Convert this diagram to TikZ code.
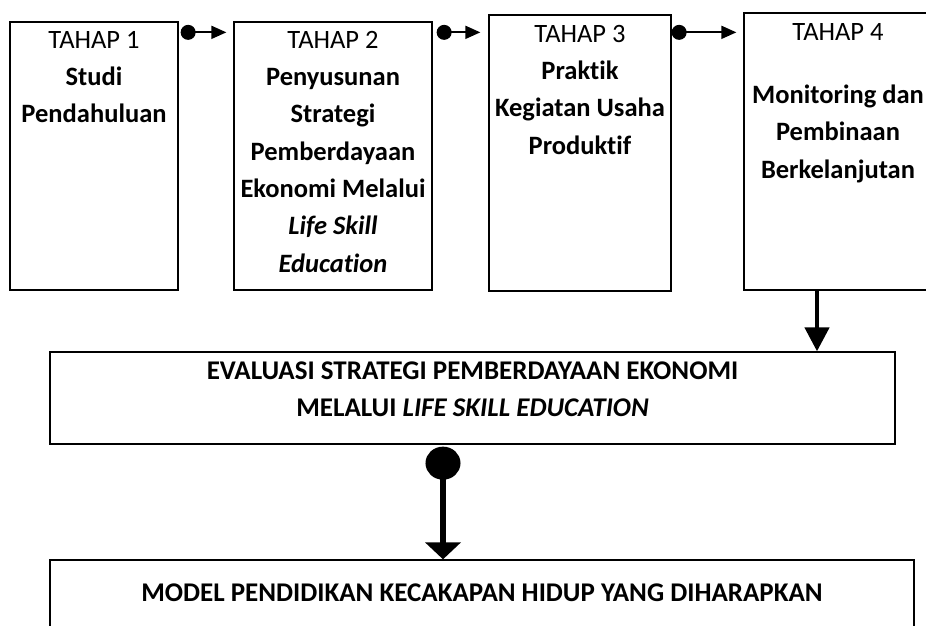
\documentclass[tikz,border=0pt]{standalone}
\usepackage{fontspec}
\setmainfont{Carlito}[Ligatures=NoCommon]
\usetikzlibrary{arrows.meta}
\begin{document}
\begin{tikzpicture}[x=1pt,y=-1pt,
  box/.style={draw, line width=1.3pt, inner sep=0pt},
  txt/.style={align=center, inner sep=0pt, anchor=north, font=\fontsize{26.5}{37.3}\selectfont},
  wtxt/.style={align=center, inner sep=0pt, anchor=north, font=\fontsize{27}{37}\selectfont},
  link/.style={line width=1.8pt, {Circle[length=15pt]}-{Triangle[length=15pt,width=13pt]}},
  down/.style={line width=4.5pt, -{Triangle[length=24pt,width=24pt]}},
  bigdown/.style={line width=6pt, {Circle[length=33pt,width=35pt]}-{Triangle[length=17pt,width=35pt]}}]
\useasboundingbox (0,0) rectangle (926,626);
% boxes
\node[box, minimum width=168pt, minimum height=268pt] (b1) at (94,156) {};
\node[box, minimum width=198pt, minimum height=268pt] (b2) at (333,156) {};
\node[box, minimum width=182pt, minimum height=276pt] (b3) at (580,153) {};
\node[box, minimum width=191pt, minimum height=277pt] (b4) at (839.5,151.5) {};
\node[box, minimum width=845pt, minimum height=92pt] (ev) at (472.5,398) {};
\node[box, minimum width=864pt, minimum height=80pt] (mo) at (482,600) {};
% texts
\node[txt] (t1) at (94,31) {TAHAP 1\\\textbf{Studi}\\\textbf{Pendahuluan}};
\node[txt] (t2) at (333,31) {TAHAP 2\\\textbf{Penyusunan}\\\textbf{Strategi}\\\textbf{Pemberdayaan}\\\textbf{Ekonomi Melalui}\\\textbf{\textit{Life Skill}}\\\textbf{\textit{Education}}};
\node[txt] (t3) at (580,25) {TAHAP 3\\\textbf{Praktik}\\\textbf{Kegiatan Usaha}\\\textbf{Produktif}};
\node[txt] (t4) at (838,23) {TAHAP 4\\[26pt]\textbf{Monitoring dan}\\\textbf{Pembinaan}\\\textbf{Berkelanjutan}};
\node[wtxt] (tev) at (472.5,361.5) {\textbf{EVALUASI STRATEGI PEMBERDAYAAN EKONOMI}\\\textbf{MELALUI \textit{LIFE SKILL EDUCATION}}};
\node[wtxt] (tmo) at (482,583.5) {\textbf{MODEL PENDIDIKAN KECAKAPAN HIDUP YANG DIHARAPKAN}};
% connectors
\draw[link, shorten <=2pt, shorten >=7pt] ([yshift=-11pt]b1.north east) -- ([yshift=-11pt]b2.north west);
\draw[link, shorten <=4pt, shorten >=8pt] ([yshift=-11pt]b2.north east) -- ([yshift=-11pt]b2.north east -| b3.west);
\draw[link, shorten <=0pt, shorten >=7pt] ([yshift=-18pt]b3.north east) -- ([yshift=-18pt]b3.north east -| b4.west);
\draw[down] ([xshift=-22.5pt]b4.south) -- ([xshift=-22.5pt]b4.south |- ev.north);
\draw[bigdown, shorten <=2pt] ([xshift=-29.5pt]ev.south) -- ([xshift=-29.5pt]ev.south |- mo.north);
\end{tikzpicture}
\end{document}
